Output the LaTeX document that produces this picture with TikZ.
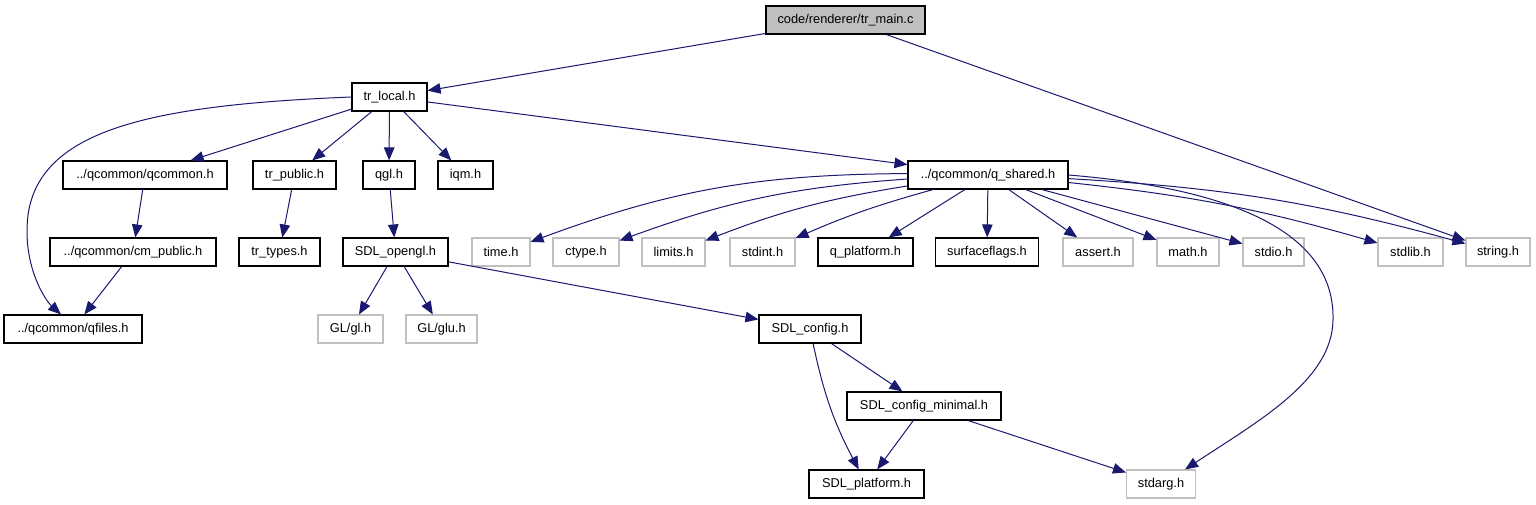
\documentclass[tikz,border=0pt]{standalone}
\usepackage{fontspec}
\setmainfont{Liberation Sans}
\usetikzlibrary{arrows.meta}
\definecolor{edgeblue}{HTML}{191970}
\definecolor{sysgray}{HTML}{BFBFBF}
\begin{document}
\begin{tikzpicture}[x=1pt,y=-1pt,
  hfile/.style={draw=black,line width=1.1pt,minimum height=28pt,inner sep=0pt,font=\fontsize{12.8}{14}\selectfont},
  sysh/.style={hfile,draw=sysgray},
  dep/.style={draw=edgeblue,line width=1pt,-{Triangle[length=13pt,width=10.5pt]}}]
  \useasboundingbox (0,0) rectangle (1536,504);
  \node[hfile,fill=sysgray,minimum width=159pt] (trmain) at (845.5,20) {code/renderer/tr\_main.c};
  \node[hfile,minimum width=75pt] (trlocal) at (389.5,97) {tr\_local.h};
  \node[hfile,minimum width=164pt] (qcommon) at (145,175) {../qcommon/qcommon.h};
  \node[hfile,minimum width=83pt] (trpublic) at (294.5,175) {tr\_public.h};
  \node[hfile,minimum width=52pt] (qgl) at (389,175) {qgl.h};
  \node[hfile,minimum width=55pt] (iqm) at (465.5,175) {iqm.h};
  \node[hfile,minimum width=160pt] (qshared) at (988,175) {../qcommon/q\_shared.h};
  \node[hfile,minimum width=166pt] (cmpublic) at (133,252) {../qcommon/cm\_public.h};
  \node[hfile,minimum width=81pt] (trtypes) at (279.5,252) {tr\_types.h};
  \node[hfile,minimum width=105pt] (sdlopengl) at (395.5,252) {SDL\_opengl.h};
  \node[sysh,minimum width=58pt] (timeh) at (501,252) {time.h};
  \node[sysh,minimum width=66pt] (ctypeh) at (586,252) {ctype.h};
  \node[sysh,minimum width=63pt] (limitsh) at (673.5,252) {limits.h};
  \node[sysh,minimum width=65pt] (stdinth) at (762.5,252) {stdint.h};
  \node[hfile,minimum width=95pt] (qplatform) at (865.5,252) {q\_platform.h};
  \node[hfile,minimum width=103pt] (surfaceflags) at (987,252) {surfaceflags.h};
  \node[sysh,minimum width=70pt] (asserth) at (1098,252) {assert.h};
  \node[sysh,minimum width=62pt] (mathh) at (1188,252) {math.h};
  \node[sysh,minimum width=61pt] (stdioh) at (1273.5,252) {stdio.h};
  \node[sysh,minimum width=65pt] (stdlibh) at (1410.5,252) {stdlib.h};
  \node[sysh,minimum width=64pt] (stringh) at (1498,252) {string.h};
  \node[hfile,minimum width=138pt] (qfiles) at (73,329) {../qcommon/qfiles.h};
  \node[sysh,minimum width=65pt] (glh) at (350.5,329) {GL/gl.h};
  \node[sysh,minimum width=71pt] (gluh) at (441.5,329) {GL/glu.h};
  \node[hfile,minimum width=102pt] (sdlconfig) at (810,329) {SDL\_config.h};
  \node[hfile,minimum width=154pt] (sdlminimal) at (924,406) {SDL\_config\_minimal.h};
  \node[hfile,minimum width=115pt] (sdlplatform) at (866.5,484) {SDL\_platform.h};
  \node[sysh,minimum width=69pt] (stdargh) at (1161,484) {stdarg.h};
  \draw[dep] (trmain) -- (trlocal);
  \draw[dep] (trmain) -- (stringh);
  \draw[dep] (trlocal.west) .. controls (150,105) and (40,130) .. (28,215)
    .. controls (22,265) and (45,300) .. ([xshift=-12pt]qfiles.north);
  \draw[dep] (trlocal) -- (qcommon);
  \draw[dep] (trlocal) -- (trpublic);
  \draw[dep] (trlocal) -- (qgl);
  \draw[dep] (trlocal) -- (iqm);
  \draw[dep] (trlocal) -- (qshared);
  \draw[dep] (qcommon) -- (cmpublic);
  \draw[dep] (cmpublic) -- (qfiles);
  \draw[dep] (trpublic) -- (trtypes);
  \draw[dep] (qgl) -- (sdlopengl);
  \draw[dep] (sdlopengl) -- (glh);
  \draw[dep] (sdlopengl) -- (gluh);
  \draw[dep] (sdlopengl) -- (sdlconfig);
  \draw[dep] (qshared) to[bend right=10] (timeh);
  \draw[dep] (qshared) to[bend right=8] (ctypeh);
  \draw[dep] (qshared) to[bend right=6] (limitsh);
  \draw[dep] (qshared) to[bend right=4] (stdinth);
  \draw[dep] (qshared) -- (qplatform);
  \draw[dep] (qshared) -- (surfaceflags);
  \draw[dep] (qshared) -- (asserth);
  \draw[dep] (qshared) -- (mathh);
  \draw[dep] (qshared) -- (stdioh);
  \draw[dep] (qshared) to[bend left=5] (stdlibh);
  \draw[dep] (qshared) to[bend left=6] (stringh);
  \draw[dep] (qshared.east) .. controls (1250,190) and (1335,240) .. (1333,320)
    .. controls (1332,380) and (1260,420) .. ([xshift=-11pt]stdargh.north east);
  \draw[dep] (sdlconfig) to[bend right=8] (sdlplatform);
  \draw[dep] (sdlconfig) -- (sdlminimal);
  \draw[dep] (sdlminimal) -- (sdlplatform);
  \draw[dep] (sdlminimal) -- (stdargh);
\end{tikzpicture}
\end{document}
